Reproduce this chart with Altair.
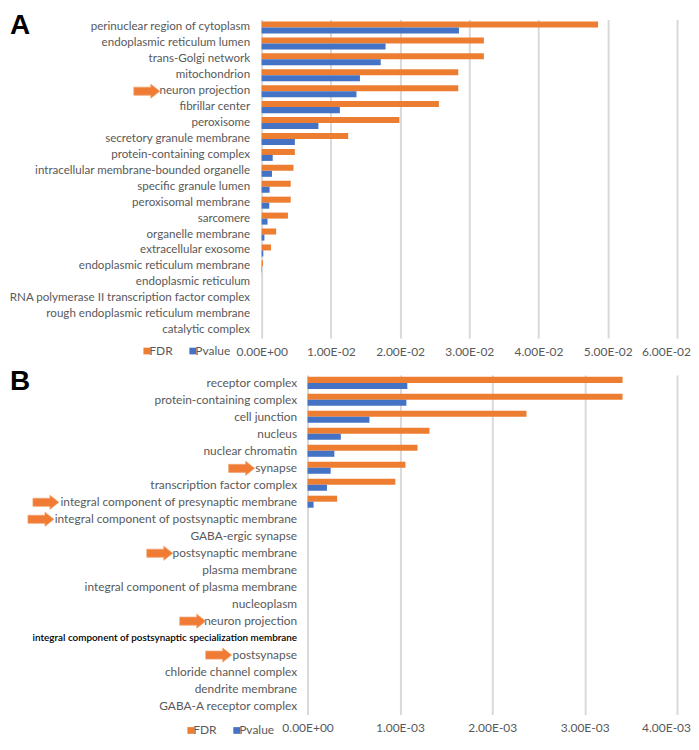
import altair as alt
import pandas as pd

# ---------------- data ----------------
A_terms = [
    "perinuclear region of cytoplasm", "endoplasmic reticulum lumen", "trans-Golgi network",
    "mitochondrion", "neuron projection", "fibrillar center", "peroxisome",
    "secretory granule membrane", "protein-containing complex",
    "intracellular membrane-bounded organelle", "specific granule lumen",
    "peroxisomal membrane", "sarcomere", "organelle membrane", "extracellular exosome",
    "endoplasmic reticulum membrane", "endoplasmic reticulum",
    "RNA polymerase II transcription factor complex",
    "rough endoplasmic reticulum membrane", "catalytic complex",
]
A_fdr = [0.0486, 0.0321, 0.0321, 0.0284, 0.0284, 0.0256, 0.0199, 0.0125, 0.0048, 0.0046,
         0.0042, 0.0042, 0.0038, 0.0021, 0.00135, 0.0002, 0, 0, 0, 0]
A_pval = [0.0285, 0.0179, 0.0172, 0.0142, 0.0137, 0.0113, 0.0082, 0.0048, 0.0016, 0.0015,
          0.00115, 0.0011, 0.00085, 0.0004, 0.00024, 0.00005, 0, 0, 0, 0]
A_ticks = [0, 0.01, 0.02, 0.03, 0.04, 0.05, 0.06]

B_terms = [
    "receptor complex", "protein-containing complex", "cell junction", "nucleus",
    "nuclear chromatin", "synapse", "transcription factor complex",
    "integral component of presynaptic membrane",
    "integral component of postsynaptic membrane", "GABA-ergic synapse",
    "postsynaptic membrane", "plasma membrane", "integral component of plasma membrane",
    "nucleoplasm", "neuron projection",
    "integral component of postsynaptic specialization membrane", "postsynapse",
    "chloride channel complex", "dendrite membrane", "GABA-A receptor complex",
]
B_fdr = [0.00341, 0.00341, 0.00237, 0.00132, 0.00119, 0.00106, 0.00095, 0.00032,
         0, 0, 0, 0, 0, 0, 0, 0, 0, 0, 0, 0]
B_pval = [0.00108, 0.00107, 0.00067, 0.00036, 0.00029, 0.00025, 0.00021, 0.000065,
          0, 0, 0, 0, 0, 0, 0, 0, 0, 0, 0, 0]
B_ticks = [0, 0.001, 0.002, 0.003, 0.004]
B_special = "integral component of postsynaptic specialization membrane"

series = ["FDR", "Pvalue"]
colors = ["#ED7D31", "#4472C4"]

# ---------------- styling / layout (not data) ----------------
FONT = "Lato"
GREY = "#595959"
PLOT_W = 416
ARROW_PATH = "M -1 -0.31 L 0.31 -0.31 L 0.31 -0.54 L 1 0 L 0.31 0.54 L 0.31 0.31 L -1 0.31 Z"
# horizontal pixel position of each arrow's centre (annotation placement)
A_arrow_px = {"neuron projection": -115}
B_arrow_px = {
    "synapse": -20,
    "integral component of presynaptic membrane": -216,
    "integral component of postsynaptic membrane": -221,
    "postsynaptic membrane": -102,
    "neuron projection": -69,
    "postsynapse": -43,
}

LABEL_EXPR = (
    "datum.value == 0 ? '0.00E+00' : "
    "format(datum.value / pow(10, floor(log(datum.value)/LN10 + 1e-9)), '.2f') + 'E' + "
    "(floor(log(datum.value)/LN10 + 1e-9) < 0 ? '-' : '+') + "
    "(abs(floor(log(datum.value)/LN10 + 1e-9)) < 10 ? '0' : '') + "
    "abs(floor(log(datum.value)/LN10 + 1e-9))"
)


def long_table(terms, fdr, pval):
    rows = []
    for t, f, p in zip(terms, fdr, pval):
        rows.append({"term": t, "series": "FDR", "value": f})
        rows.append({"term": t, "series": "Pvalue", "value": p})
    return pd.DataFrame(rows)


def panel(letter, terms, fdr, pval, ticks, arrow_px, height, x_range, y_axis_offset,
          label_padding, legend_x, legend_y, letter_y, pad_inner, label_size, special=None):
    df = long_table(terms, fdr, pval)

    if special is not None:
        test = "datum.value === '" + special + "'"
        lab_size = {"condition": {"test": test, "value": 9.9}, "value": label_size}
        lab_color = {"condition": {"test": test, "value": "#000000"}, "value": GREY}
        lab_weight = {"condition": {"test": test, "value": 600}, "value": 400}
    else:
        lab_size, lab_color, lab_weight = label_size, GREY, 400

    y_enc = alt.Y(
        "term:N", sort=terms, title=None,
        scale=alt.Scale(paddingInner=pad_inner, paddingOuter=pad_inner / 2),
        axis=alt.Axis(domain=False, ticks=False, grid=False, labelFont=FONT,
                      labelFontSize=lab_size, labelColor=lab_color,
                      labelFontWeight=lab_weight, labelPadding=label_padding,
                      offset=y_axis_offset, labelLimit=400),
    )

    last_test = "datum.value >= " + repr(ticks[-1] * 0.999)
    bars = alt.Chart(df).mark_bar().encode(
        y=y_enc,
        yOffset=alt.YOffset("series:N", sort=series),
        x=alt.X("value:Q", title=None,
                scale=alt.Scale(domain=[ticks[0], ticks[-1]], range=x_range, nice=False),
                axis=alt.Axis(values=ticks, labelExpr=LABEL_EXPR, domain=False, ticks=False,
                              grid=True, gridColor="#D9D9D9", gridWidth=2,
                              labelFont=FONT, labelFontSize=12, labelColor=GREY,
                              labelPadding=8, labelOverlap=False, labelFlush=False,
                              labelOffset={"condition": {"test": last_test, "value": -11},
                                           "value": 0})),
        color=alt.Color("series:N", scale=alt.Scale(domain=series, range=colors),
                        legend=alt.Legend(orient="none", legendX=legend_x, legendY=legend_y,
                                          direction="horizontal", title=None,
                                          symbolType="square", symbolSize=45,
                                          symbolStrokeWidth=0, labelFont=FONT,
                                          labelFontSize=12, labelColor=GREY,
                                          columnPadding=14, labelOffset={"expr": "-3.5"},
                                          padding=0, gridAlign="none")),
    )

    layers = [bars]
    for term, px in arrow_px.items():
        adf = pd.DataFrame({"term": [term]})
        layers.append(
            alt.Chart(adf).mark_point(shape=ARROW_PATH, size=676, filled=True,
                                      fill="#F07B35", stroke="#F4A26F", strokeWidth=0.8,
                                      opacity=1, x=px)
            .encode(y=alt.Y("term:N", sort=terms))
        )

    ldf = pd.DataFrame({"t": [letter]})
    layers.append(
        alt.Chart(ldf).mark_text(x=-252, y=letter_y, align="left", baseline="alphabetic",
                                 font="Liberation Sans", fontSize=28, fontWeight="bold",
                                 color="#000000")
        .encode(text="t:N")
    )

    return alt.layer(*layers).properties(width=PLOT_W, height=height)


pA = panel("A", A_terms, A_fdr, A_pval, A_ticks, A_arrow_px, 319, [0, PLOT_W], 0, 12,
           -121, 326, 14.5, 0.245, 11.6)
pB = panel("B", B_terms, B_fdr, B_pval, B_ticks, B_arrow_px, 340, [46, PLOT_W], -46, 11,
           -77, 350, 15, 0.22, 11.9, special=B_special)

chart = (
    alt.vconcat(pA, pB, spacing=11)
    .resolve_legend(color="independent")
    .resolve_scale(x="independent", y="independent")
    .properties(padding={"top": 3, "left": 0, "right": 0, "bottom": 2}, background="white")
    .configure_view(stroke=None)
)

chart.save("out.html", embed_options={"renderer": "svg", "actions": False})
